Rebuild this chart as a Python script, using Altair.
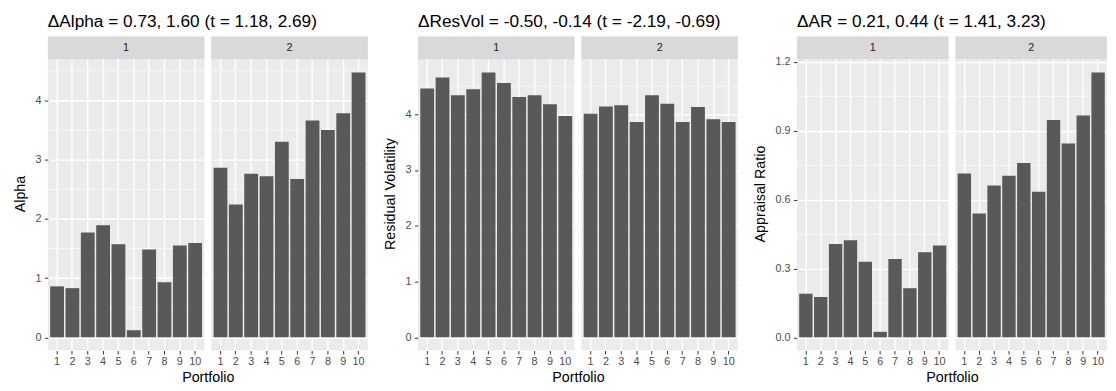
import altair as alt
import pandas as pd

portfolios = list(range(1, 11))
group_labels = ["1", "2"]

alpha_g1 = [0.86, 0.83, 1.77, 1.89, 1.57, 0.12, 1.48, 0.93, 1.55, 1.59]
alpha_g2 = [2.86, 2.24, 2.76, 2.72, 3.30, 2.67, 3.66, 3.50, 3.78, 4.47]
resvol_g1 = [4.46, 4.66, 4.34, 4.45, 4.75, 4.56, 4.31, 4.34, 4.18, 3.97]
resvol_g2 = [4.01, 4.14, 4.16, 3.86, 4.34, 4.19, 3.86, 4.13, 3.91, 3.86]
ar_g1 = [0.190, 0.176, 0.407, 0.423, 0.329, 0.024, 0.341, 0.214, 0.371, 0.400]
ar_g2 = [0.714, 0.539, 0.661, 0.704, 0.760, 0.634, 0.947, 0.844, 0.966, 1.154]

titles = [
    "\u0394Alpha = 0.73, 1.60 (t = 1.18, 2.69)",
    "\u0394ResVol = -0.50, -0.14 (t = -2.19, -0.69)",
    "\u0394AR = 0.21, 0.44 (t = 1.41, 3.23)",
]
y_titles = ["Alpha", "Residual Volatility", "Appraisal Ratio"]
major_ticks = [[0, 1, 2, 3, 4], [0, 1, 2, 3, 4], [0.0, 0.3, 0.6, 0.9, 1.2]]
minor_ticks = [[0.5, 1.5, 2.5, 3.5, 4.5], [0.5, 1.5, 2.5, 3.5, 4.5], [0.15, 0.45, 0.75, 1.05]]
label_formats = ["d", "d", ".1f"]
series = [(alpha_g1, alpha_g2), (resvol_g1, resvol_g2), (ar_g1, ar_g2)]
panel_widths = [159, 159, 154]

FONT = "Liberation Sans"
PLOT_H = 296
STRIP_H = 23
INNER_GAP = 7


def panel(values, label, ymax, ticks, minors, fmt, ytitle, width, first):
    lo = -0.05 * ymax
    hi = 1.05 * ymax
    top = hi + (hi - lo) * STRIP_H / PLOT_H
    yscale = alt.Scale(domain=[lo, top], nice=False, zero=False)
    xscale = alt.Scale(paddingInner=0.1, paddingOuter=0.15)

    df = pd.DataFrame({"Portfolio": portfolios, "value": values})
    minor_df = pd.DataFrame({"value": minors})
    strip_df = pd.DataFrame({"lab": [label]})

    if first:
        yaxis = alt.Axis(values=ticks, format=fmt, title=ytitle, grid=True)
        xaxis = alt.Axis(labelAngle=0, title="Portfolio", grid=True, bandPosition=0.5,
                         titleX=(2 * width + INNER_GAP) / 2, titleAlign="center")
    else:
        yaxis = alt.Axis(values=ticks, labels=False, ticks=False, title=None, grid=True)
        xaxis = alt.Axis(labelAngle=0, title=None, grid=True, bandPosition=0.5)

    minor = alt.Chart(minor_df).mark_rule(color="white", strokeWidth=0.7).encode(
        y=alt.Y("value:Q", scale=yscale, axis=yaxis),
        x=alt.value(0),
        x2=alt.value(width),
    )
    bars = alt.Chart(df).mark_bar(color="#595959").encode(
        x=alt.X("Portfolio:O", scale=xscale, axis=xaxis),
        y=alt.Y("value:Q", scale=yscale, axis=yaxis),
        y2=alt.datum(0),
    )
    strip = alt.Chart(strip_df).mark_rect(color="#D9D9D9").encode(
        x=alt.value(0),
        x2=alt.value(width),
        y=alt.datum(hi),
        y2=alt.datum(top),
    )
    strip_text = alt.Chart(strip_df).mark_text(
        fontSize=11, color="#1A1A1A", font=FONT, baseline="middle"
    ).encode(
        x=alt.value(width / 2),
        y=alt.datum((hi + top) / 2),
        text="lab:N",
    )
    return alt.layer(minor, bars, strip, strip_text).properties(
        width=width, height=PLOT_H + STRIP_H
    )


groups = []
for i in range(3):
    g1, g2 = series[i]
    ymax = max(max(g1), max(g2))
    p1 = panel(g1, group_labels[0], ymax, major_ticks[i], minor_ticks[i],
               label_formats[i], y_titles[i], panel_widths[i], True)
    p2 = panel(g2, group_labels[1], ymax, major_ticks[i], minor_ticks[i],
               label_formats[i], y_titles[i], panel_widths[i], False)
    g = alt.hconcat(
        p1, p2, spacing=INNER_GAP, bounds="flush",
        title=alt.TitleParams(titles[i], fontSize=17.5, fontWeight="normal", anchor="start",
                              color="black", font=FONT, offset=6, frame="group"),
    )
    groups.append(g)

chart = alt.hconcat(*groups, spacing=13).properties(
    padding={"left": 3.5, "top": 2, "right": 0, "bottom": 0}
).configure(font=FONT).configure_view(
    fill="#EBEBEB", stroke=None
).configure_axis(
    gridColor="white",
    gridWidth=1.4,
    domain=False,
    tickColor="#333333",
    tickSize=3.5,
    tickWidth=1,
    labelColor="#4D4D4D",
    labelFontSize=11,
    labelFont=FONT,
    titleFont=FONT,
    titleFontSize=14.5,
    titleFontWeight="normal",
    titleColor="black",
).configure_axisY(
    labelPadding=3.5, titlePadding=8
).configure_axisX(
    labelPadding=2, titlePadding=4
)

chart.save("out.html", embed_options={"renderer": "svg", "actions": False})
